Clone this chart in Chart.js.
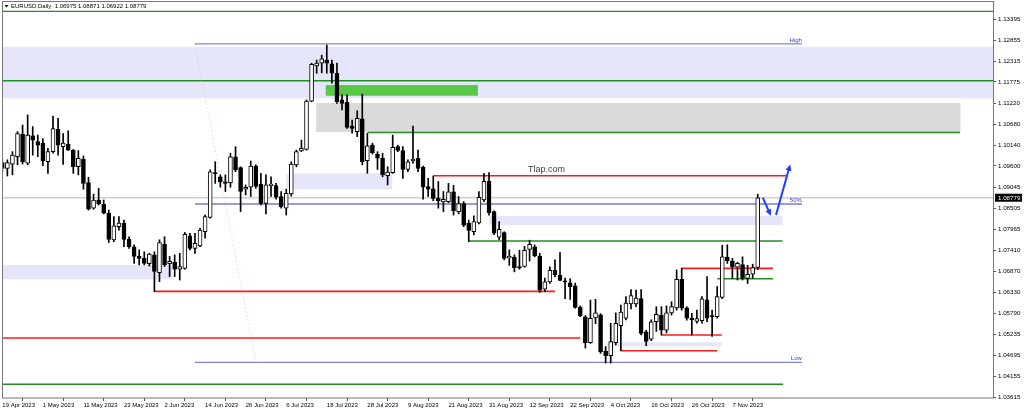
<!DOCTYPE html>
<html>
<head>
<meta charset="utf-8">
<script src="https://cdn.jsdelivr.net/npm/chart.js@4.4.0/dist/chart.umd.min.js"></script>
<style>
  html, body { margin: 0; padding: 0; background: #fff; }
  #wrap { width: 1024px; height: 412px; }
</style>
</head>
<body>
<div id="wrap"><canvas id="eurusdChart"></canvas></div>
<script>
// EURUSD daily, 19 Apr 2023 - 14 Nov 2023 (one entry per trading day)
const dateLabels = ['19 Apr 2023', '1 May 2023', '11 May 2023', '23 May 2023', '2 Jun 2023', '14 Jun 2023',
    '26 Jun 2023', '6 Jul 2023', '18 Jul 2023', '28 Jul 2023', '9 Aug 2023', '21 Aug 2023', '31 Aug 2023',
    '12 Sep 2023', '22 Sep 2023', '4 Oct 2023', '16 Oct 2023', '26 Oct 2023', '7 Nov 2023'];
const barsPerLabel = 8;

const priceTicks = [1.03615, 1.04155, 1.04695, 1.05235, 1.05790, 1.06330, 1.06870, 1.07410, 1.07965, 1.08505,
    1.09045, 1.09600, 1.10140, 1.10680, 1.11220, 1.11775, 1.12315, 1.12855, 1.13395];

const opens = [
    1.0969, 1.0954, 1.0965, 1.0984, 1.1042, 1.0967, 1.1038, 1.1023, 1.1019, 1.0971,
    1.0997, 1.1055, 1.1010, 1.1017, 1.1001, 1.0958, 1.0977, 1.0917, 1.0851, 1.0872,
    1.0861, 1.0838, 1.0769, 1.0803, 1.0812, 1.0770, 1.0751, 1.0726, 1.0721, 1.0707,
    1.0730, 1.0684, 1.0758, 1.0707, 1.0711, 1.0693, 1.0695, 1.0779, 1.0747, 1.0753,
    1.0790, 1.0827, 1.0943, 1.0932, 1.0919, 1.0917, 1.0984, 1.0956, 1.0900, 1.0905,
    1.0960, 1.0913, 1.0863, 1.0909, 1.0909, 1.0881, 1.0851, 1.0888, 1.0963, 1.0999,
    1.1003, 1.1128, 1.1219, 1.1226, 1.1234, 1.1224, 1.1200, 1.1131, 1.1125, 1.1063,
    1.1049, 1.1082, 1.0974, 1.1014, 1.0991, 1.0980, 1.0935, 1.0943, 1.1010, 1.1000,
    1.0951, 1.0974, 1.0980, 1.0957, 1.0907, 1.0901, 1.0876, 1.0867, 1.0868, 1.0893,
    1.0842, 1.0863, 1.0812, 1.0790, 1.0813, 1.0872, 1.0920, 1.0842, 1.0776, 1.0788,
    1.0722, 1.0724, 1.0700, 1.0700, 1.0744, 1.0751, 1.0727, 1.0641, 1.0660, 1.0690,
    1.0677, 1.0662, 1.0658, 1.0650, 1.0594, 1.0570, 1.0503, 1.0567, 1.0575, 1.0481,
    1.0469, 1.0503, 1.0547, 1.0566, 1.0603, 1.0603, 1.0617, 1.0531, 1.0512, 1.0557,
    1.0574, 1.0535, 1.0580, 1.0593, 1.0667, 1.0593, 1.0566, 1.0558, 1.0560, 1.0614,
    1.0573, 1.0570, 1.0620, 1.0724, 1.0714, 1.0698, 1.0705, 1.0669, 1.0680, 1.06975
];
const highs = [
    1.0977, 1.0976, 1.0997, 1.1049, 1.1066, 1.1092, 1.1062, 1.1040, 1.1031, 1.1006,
    1.1089, 1.1083, 1.1044, 1.1051, 1.1003, 1.1000, 1.0986, 1.0931, 1.0887, 1.0902,
    1.0872, 1.0846, 1.0829, 1.0829, 1.0820, 1.0777, 1.0756, 1.0743, 1.0738, 1.0734,
    1.0738, 1.0769, 1.0777, 1.0726, 1.0730, 1.0734, 1.0788, 1.0786, 1.0786, 1.0799,
    1.0833, 1.0950, 1.0971, 1.0937, 1.0937, 1.0993, 1.1010, 1.0958, 1.0911, 1.0973,
    1.0963, 1.0941, 1.0937, 1.0932, 1.0915, 1.0894, 1.0900, 1.0971, 1.1001, 1.1027,
    1.1131, 1.1226, 1.1234, 1.1247, 1.1273, 1.1234, 1.1226, 1.1144, 1.1144, 1.1079,
    1.1103, 1.1146, 1.1045, 1.1019, 1.0997, 1.0993, 1.0958, 1.1040, 1.1014, 1.1010,
    1.0976, 1.1063, 1.1001, 1.0960, 1.0928, 1.0934, 1.0920, 1.0894, 1.0915, 1.0910,
    1.0881, 1.0868, 1.0820, 1.0831, 1.0894, 1.0941, 1.0943, 1.0844, 1.0816, 1.0790,
    1.0743, 1.0730, 1.0742, 1.0752, 1.0768, 1.0756, 1.0734, 1.0670, 1.0699, 1.0717,
    1.0736, 1.0670, 1.0668, 1.0657, 1.0598, 1.0573, 1.0613, 1.0615, 1.0578, 1.0493,
    1.0553, 1.0580, 1.0600, 1.0622, 1.0640, 1.0639, 1.0640, 1.0535, 1.0562, 1.0596,
    1.0596, 1.0598, 1.0609, 1.0691, 1.0695, 1.0596, 1.0579, 1.0587, 1.0622, 1.0674,
    1.0587, 1.0648, 1.0755, 1.0756, 1.0721, 1.0711, 1.0725, 1.0703, 1.0706, 1.08871
];
const lows = [
    1.0945, 1.0934, 1.0937, 1.0963, 1.0965, 1.0963, 1.0988, 1.0984, 1.0961, 1.0941,
    1.0993, 1.0988, 1.0964, 1.1000, 1.0941, 1.0937, 1.0900, 1.0846, 1.0848, 1.0859,
    1.0836, 1.0762, 1.0764, 1.0794, 1.0751, 1.0747, 1.0708, 1.0704, 1.0704, 1.0701,
    1.0635, 1.0661, 1.0700, 1.0674, 1.0674, 1.0665, 1.0693, 1.0743, 1.0734, 1.0751,
    1.0773, 1.0825, 1.0915, 1.0905, 1.0894, 1.0905, 1.0945, 1.0842, 1.0885, 1.0881,
    1.0902, 1.0859, 1.0836, 1.0881, 1.0874, 1.0851, 1.0833, 1.0882, 1.0958, 1.0997,
    1.1001, 1.1126, 1.1200, 1.1201, 1.1200, 1.1174, 1.1122, 1.1105, 1.1057, 1.1045,
    1.1036, 1.0963, 1.0941, 1.0991, 1.0951, 1.0932, 1.0911, 1.0941, 1.0997, 1.0928,
    1.0945, 1.0967, 1.0945, 1.0874, 1.0881, 1.0870, 1.0851, 1.0842, 1.0865, 1.0833,
    1.0836, 1.0803, 1.0764, 1.0782, 1.0810, 1.0868, 1.0833, 1.0782, 1.0769, 1.0717,
    1.0703, 1.0686, 1.0693, 1.0698, 1.0714, 1.0725, 1.0633, 1.0635, 1.0656, 1.0673,
    1.0663, 1.0617, 1.0615, 1.0592, 1.0570, 1.0489, 1.0501, 1.0552, 1.0475, 1.0450,
    1.0450, 1.0497, 1.0482, 1.0562, 1.0590, 1.0596, 1.0523, 1.0495, 1.0508, 1.0532,
    1.0523, 1.0528, 1.0574, 1.0587, 1.0587, 1.0561, 1.0523, 1.0553, 1.0553, 1.0557,
    1.0519, 1.0566, 1.0617, 1.0708, 1.0669, 1.0665, 1.0665, 1.0656, 1.0669, 1.06922
];
const closes = [
    1.0954, 1.0969, 1.0988, 1.1044, 1.0971, 1.1040, 1.1027, 1.1014, 1.0973, 1.0997,
    1.1057, 1.1014, 1.1019, 1.1001, 1.0958, 1.0980, 1.0915, 1.0848, 1.0872, 1.0862,
    1.0838, 1.0770, 1.0805, 1.0812, 1.0770, 1.0751, 1.0726, 1.0721, 1.0708, 1.0732,
    1.0687, 1.0762, 1.0704, 1.0713, 1.0693, 1.0700, 1.0783, 1.0747, 1.0760, 1.0794,
    1.0829, 1.0945, 1.0940, 1.0919, 1.0915, 1.0984, 1.0950, 1.0894, 1.0905, 1.0960,
    1.0907, 1.0863, 1.0911, 1.0913, 1.0879, 1.0855, 1.0889, 1.0965, 1.0997, 1.1006,
    1.1128, 1.1223, 1.1226, 1.1237, 1.1226, 1.1200, 1.1126, 1.1122, 1.1060, 1.1057,
    1.1083, 1.0971, 1.1012, 1.0994, 1.0980, 1.0937, 1.0944, 1.1008, 1.1000, 1.0951,
    1.0971, 1.0977, 1.0954, 1.0905, 1.0900, 1.0876, 1.0870, 1.0874, 1.0893, 1.0844,
    1.0863, 1.0807, 1.0793, 1.0816, 1.0879, 1.0920, 1.0839, 1.0786, 1.0796, 1.0721,
    1.0726, 1.0697, 1.0696, 1.0742, 1.0757, 1.0727, 1.0639, 1.0660, 1.0690, 1.0678,
    1.0664, 1.0660, 1.0648, 1.0594, 1.0572, 1.0503, 1.0566, 1.0580, 1.0479, 1.0469,
    1.0506, 1.0553, 1.0582, 1.0605, 1.0625, 1.0618, 1.0527, 1.0506, 1.0557, 1.0576,
    1.0535, 1.0580, 1.0596, 1.0667, 1.0592, 1.0566, 1.0562, 1.0565, 1.0616, 1.0566,
    1.0570, 1.0622, 1.0725, 1.0715, 1.0699, 1.0708, 1.0669, 1.0680, 1.0697, 1.08779
];

// drawn objects, in price and bar-number units
// levels: [price, first bar, last bar]
const greenLevels = [[1.1360, -1, 200], [1.11805, -1, 200], [1.10466, 72.1, 188.9], [1.07658, 91.9, 153.9],
    [1.06683, 141, 152], [1.03951, -1, 154]];
const redLevels = [[1.09348, 85, 154.9], [1.06357, 29.9, 109], [1.05149, -1, 114], [1.05227, 129.9, 141.9],
    [1.04821, 122, 141], [1.06952, 133.9, 152]];
// zones: [top price, bottom price, first bar, last bar]
const lavenderZones = [[1.12685, 1.11350, -1, 200], [1.07038, 1.06668, -1, 33.5], [1.09410, 1.08996, 56, 76.9],
    [1.08305, 1.08072, 96, 153.9], [1.05038, 1.04934, 119.2, 141.9]];
const grayZones = [[1.11229, 1.10478, 61.9, 189]];
const greenZones = [[1.11694, 1.11417, 63.8, 93.8]];
// fibonacci levels
const fiboNames = ['High', '50%', 'Low'];
const fiboPrices = [1.12757, 1.08616, 1.04520];
const fiboBars = [38, 157.7];
const fiboTrend = [38, 1.12757, 50, 1.04520];
// arrows: [from bar, from price, to bar, to price]
const arrows = [[150, 1.0878, 151.6, 1.0831], [152.6, 1.0833, 155.4, 1.0964]];
const watermark = ['Tlap.com', 103.7, 1.0951];

const symbolTitle = 'EURUSD,Daily';
const fontName = 'Liberation Sans';

const lastBar = closes.length - 1;
const barIndex = closes.map((c, i) => i);
const bodyData = barIndex.map(i => ({x: i, y: [opens[i], closes[i]]}));
const wickData = barIndex.map(i => ({x: i, y: [lows[i], highs[i]]}));
const bodyFill = barIndex.map(i => closes[i] >= opens[i] ? '#ffffff' : '#000000');

// Draws the terminal objects (zones, levels, fibo, arrows) with the chart scales
const objectsPlugin = {
    id: 'terminalObjects',
    beforeDatasetsDraw(chart) {
        const {ctx, chartArea: a, scales: {x, y}} = chart;
        ctx.save();
        ctx.beginPath();
        ctx.rect(a.left, a.top, a.right - a.left, a.bottom - a.top);
        ctx.clip();

        const zone = (z, color) => {
            const x0 = x.getPixelForValue(z[2]), x1 = x.getPixelForValue(z[3]);
            const y0 = y.getPixelForValue(z[0]), y1 = y.getPixelForValue(z[1]);
            ctx.fillStyle = color;
            ctx.fillRect(x0, y0, x1 - x0, y1 - y0);
        };
        const level = (price, from, to, color, width) => {
            const py = y.getPixelForValue(price);
            ctx.strokeStyle = color;
            ctx.lineWidth = width;
            ctx.beginPath();
            ctx.moveTo(x.getPixelForValue(from), py);
            ctx.lineTo(x.getPixelForValue(to), py);
            ctx.stroke();
        };

        lavenderZones.forEach(z => zone(z, '#e6e6fa'));
        grayZones.forEach(z => zone(z, '#dadada'));

        // bid line
        level(closes[lastBar], -1, 200, '#cfcfcf', 1.5);

        greenLevels.forEach(l => level(l[0], l[1], l[2], '#1f8f1f', 1.4));
        redLevels.forEach(l => level(l[0], l[1], l[2], '#ff1a1a', 1.6));
        greenZones.forEach(z => zone(z, '#59c847'));

        // fibo trend line (dotted)
        ctx.setLineDash([2, 2]);
        ctx.strokeStyle = 'rgba(255, 150, 170, 0.4)';
        ctx.lineWidth = 1;
        ctx.beginPath();
        ctx.moveTo(x.getPixelForValue(fiboTrend[0]), y.getPixelForValue(fiboTrend[1]));
        ctx.lineTo(x.getPixelForValue(fiboTrend[2]), y.getPixelForValue(fiboTrend[3]));
        ctx.stroke();
        ctx.setLineDash([]);

        fiboPrices.forEach((p, k) => {
            level(p, fiboBars[0], fiboBars[1], k === 1 ? '#3636b4' : '#8484d6', 1.2);
        });
        ctx.restore();
    },
    afterDatasetsDraw(chart) {
        const {ctx, chartArea: a, scales: {x, y}} = chart;
        ctx.save();

        // fibo labels
        ctx.font = '6px "' + fontName + '"';
        ctx.fillStyle = '#3c3cb4';
        ctx.textAlign = 'right';
        ctx.textBaseline = 'bottom';
        fiboNames.forEach((n, k) => {
            ctx.fillText(n, x.getPixelForValue(fiboBars[1]), y.getPixelForValue(fiboPrices[k]) - 1);
        });

        // watermark text
        ctx.font = '9px "' + fontName + '"';
        ctx.fillStyle = '#404040';
        ctx.textAlign = 'left';
        ctx.textBaseline = 'middle';
        ctx.fillText(watermark[0], x.getPixelForValue(watermark[1]), y.getPixelForValue(watermark[2]));

        // arrows
        ctx.strokeStyle = '#1f3cff';
        ctx.fillStyle = '#1f3cff';
        ctx.lineWidth = 2;
        arrows.forEach(ar => {
            const x0 = x.getPixelForValue(ar[0]), y0 = y.getPixelForValue(ar[1]);
            const x1 = x.getPixelForValue(ar[2]), y1 = y.getPixelForValue(ar[3]);
            const ang = Math.atan2(y1 - y0, x1 - x0);
            ctx.beginPath();
            ctx.moveTo(x0, y0);
            ctx.lineTo(x1 - 3 * Math.cos(ang), y1 - 3 * Math.sin(ang));
            ctx.stroke();
            ctx.beginPath();
            ctx.moveTo(x1, y1);
            ctx.lineTo(x1 - 7 * Math.cos(ang - 0.45), y1 - 7 * Math.sin(ang - 0.45));
            ctx.lineTo(x1 - 7 * Math.cos(ang + 0.45), y1 - 7 * Math.sin(ang + 0.45));
            ctx.closePath();
            ctx.fill();
        });

        // frame
        ctx.strokeStyle = '#777777';
        ctx.lineWidth = 1;
        ctx.strokeRect(a.left + 0.5, a.top - 0.5, a.right - a.left, a.bottom - a.top + 0.5);

        // title
        ctx.fillStyle = '#000000';
        ctx.beginPath();
        ctx.moveTo(a.left + 2.5, a.top + 3);
        ctx.lineTo(a.left + 6.5, a.top + 3);
        ctx.lineTo(a.left + 4.5, a.top + 5.5);
        ctx.closePath();
        ctx.fill();
        ctx.font = '6px "' + fontName + '"';
        ctx.textAlign = 'left';
        ctx.textBaseline = 'middle';
        const ohlc = [opens[lastBar], highs[lastBar], lows[lastBar], closes[lastBar]].map(v => v.toFixed(5)).join(' ');
        ctx.fillText(symbolTitle + '  ' + ohlc, a.left + 9, a.top + 4.5);

        // bid price label on the axis
        const by = y.getPixelForValue(closes[lastBar]);
        ctx.fillStyle = '#000000';
        ctx.fillRect(a.right + 2, by - 4, 27, 8);
        ctx.fillStyle = '#ffffff';
        ctx.font = '6.2px "' + fontName + '"';
        ctx.fillText(closes[lastBar].toFixed(5), a.right + 5, by + 0.5);
        ctx.restore();
    }
};

const ctx = document.getElementById('eurusdChart').getContext('2d');

const chart = new Chart(ctx, {
    type: 'bar',
    data: {
        datasets: [
            {
                label: 'body',
                data: bodyData,
                backgroundColor: bodyFill,
                borderColor: '#000000',
                borderWidth: 1,
                borderSkipped: false,
                barThickness: 4,
                minBarLength: 1,
                grouped: false,
                order: 0
            },
            {
                label: 'wick',
                data: wickData,
                backgroundColor: '#000000',
                borderWidth: 0,
                barThickness: 1,
                grouped: false,
                order: 1
            }
        ]
    },
    options: {
        responsive: true,
        maintainAspectRatio: false,
        animation: false,
        events: [],
        layout: {
            padding: {left: 2, top: 2, right: 0, bottom: 0}
        },
        plugins: {
            legend: {display: false},
            tooltip: {enabled: false}
        },
        scales: {
            x: {
                type: 'linear',
                min: -0.06,
                max: 195.4,
                offset: false,
                afterBuildTicks: scale => {
                    scale.ticks = dateLabels.map((d, k) => ({value: k * barsPerLabel}));
                },
                afterFit: scale => {
                    scale.height = 14;
                    scale.paddingLeft = 0;
                    scale.paddingRight = 0;
                },
                ticks: {
                    autoSkip: false,
                    maxRotation: 0,
                    align: 'start',
                    padding: 1,
                    color: '#000000',
                    font: {family: fontName, size: 6},
                    callback: (v, i) => dateLabels[i]
                },
                grid: {drawOnChartArea: false, tickLength: 3, color: '#555555'},
                border: {display: false}
            },
            y: {
                position: 'right',
                min: 1.03597,
                max: 1.13843,
                afterBuildTicks: scale => {
                    scale.ticks = priceTicks.map(v => ({value: v}));
                },
                afterFit: scale => {
                    scale.width = 31;
                    scale.paddingTop = 0;
                    scale.paddingBottom = 0;
                },
                ticks: {
                    padding: 2,
                    color: '#000000',
                    font: {family: fontName, size: 6.2},
                    callback: v => v.toFixed(5)
                },
                grid: {drawOnChartArea: false, tickLength: 3, color: '#555555'},
                border: {display: false}
            }
        }
    },
    plugins: [objectsPlugin]
});
</script>
</body>
</html>
